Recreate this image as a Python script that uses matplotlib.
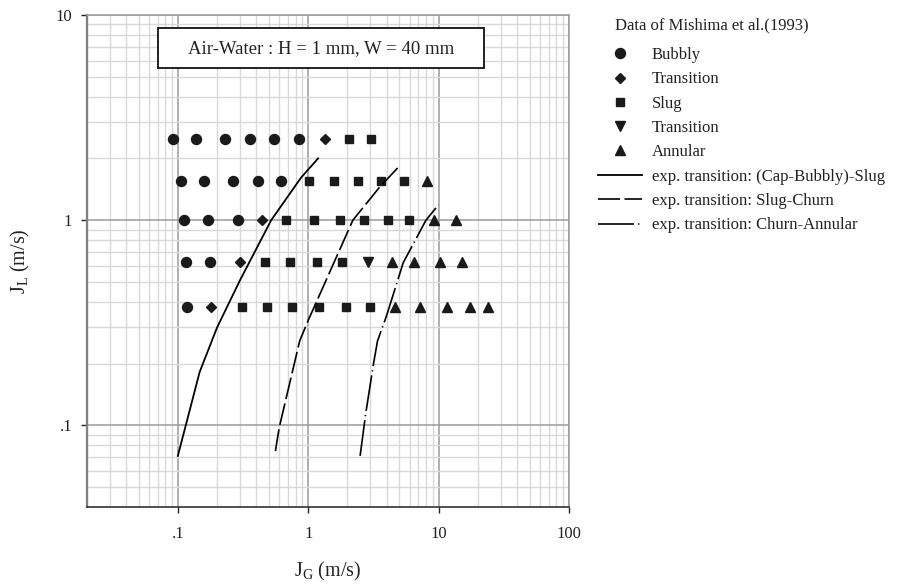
import matplotlib
matplotlib.use("Agg")
import matplotlib.pyplot as plt
from matplotlib.patches import Rectangle
from matplotlib.ticker import FixedLocator, LogLocator, NullFormatter

plt.rcParams['font.family'] = ['Liberation Serif', 'DejaVu Serif']
plt.rcParams['mathtext.fontset'] = 'custom'
plt.rcParams['mathtext.rm'] = 'Liberation Serif'
plt.rcParams['mathtext.it'] = 'Liberation Serif:italic'

# ---- data (J_G, J_L in m/s) ----
bubbly_x = [0.0915, 0.139, 0.231, 0.356, 0.542, 0.848,
            0.105, 0.160, 0.266, 0.411, 0.617,
            0.112, 0.170, 0.290,
            0.115, 0.178,
            0.117]
bubbly_y = [2.5, 2.5, 2.5, 2.5, 2.5, 2.5,
            1.56, 1.56, 1.56, 1.56, 1.56,
            1.0, 1.0, 1.0,
            0.625, 0.625,
            0.378]

trans1_x = [1.34, 0.444, 0.300, 0.181]
trans1_y = [2.5, 1.0, 0.625, 0.378]

slug_x = [2.06, 3.03,
          1.006, 1.57, 2.41, 3.62, 5.38,
          0.676, 1.10, 1.74, 2.67, 4.08, 5.98,
          0.468, 0.723, 1.165, 1.83,
          0.310, 0.482, 0.747, 1.20, 1.95, 3.0]
slug_y = [2.5, 2.5,
          1.56, 1.56, 1.56, 1.56, 1.56,
          1.0, 1.0, 1.0, 1.0, 1.0, 1.0,
          0.625, 0.625, 0.625, 0.625,
          0.378, 0.378, 0.378, 0.378, 0.378, 0.378]

trans2_x = [2.86]
trans2_y = [0.625]

annular_x = [8.08,
             9.2, 13.5,
             4.40, 6.53, 10.2, 15.2,
             4.59, 7.14, 11.5, 17.5, 23.9]
annular_y = [1.56,
             1.0, 1.0,
             0.625, 0.625, 0.625, 0.625,
             0.378, 0.378, 0.378, 0.378, 0.378]

slug_tr_x = [0.1, 0.147, 0.2, 0.3, 0.52, 0.88, 1.19]
slug_tr_y = [0.071, 0.182, 0.30, 0.51, 1.0, 1.61, 2.0]

churn_tr_x = [0.56, 0.60, 0.86, 1.0, 2.2, 3.5, 4.9]
churn_tr_y = [0.075, 0.098, 0.258, 0.325, 1.0, 1.44, 1.81]

annular_tr_x = [2.5, 2.76, 3.16, 3.4, 4.0, 5.35, 8.0, 10.0]
annular_tr_y = [0.071, 0.114, 0.198, 0.258, 0.344, 0.62, 1.0, 1.19]

x_ticks = [0.1, 1, 10, 100]
x_ticklabels = ['.1', '1', '10', '100']
y_ticks = [0.1, 1, 10]
y_ticklabels = ['.1', '1', '10']

labels = ['Bubbly', 'Transition', 'Slug', 'Transition', 'Annular',
          'exp. transition: (Cap-Bubbly)-Slug',
          'exp. transition: Slug-Churn',
          'exp. transition: Churn-Annular']

# ---- figure ----
fig = plt.figure(figsize=(9.12, 5.86), dpi=100)
ax = fig.add_axes([86.7 / 912, 1 - 507 / 586, (569 - 86.7) / 912, (507 - 15) / 586])
ax.set_xscale('log')
ax.set_yscale('log')
ax.set_xlim(0.02, 100)
ax.set_ylim(0.04, 10)

mc = '#1a1a1a'
h1, = ax.plot(bubbly_x, bubbly_y, 'o', ms=7.2, color=mc, ls='none', zorder=4)
h2, = ax.plot(trans1_x, trans1_y, 'D', ms=5.4, color=mc, ls='none', zorder=4)
h3, = ax.plot(slug_x, slug_y, 's', ms=5.8, color=mc, ls='none', zorder=4)
h4, = ax.plot(trans2_x, trans2_y, 'v', ms=6.8, color=mc, ls='none', zorder=4)
h5, = ax.plot(annular_x, annular_y, '^', ms=6.8, color=mc, ls='none', zorder=4)
h6, = ax.plot(slug_tr_x, slug_tr_y, '-', color='black', lw=1.3, zorder=5)
h7, = ax.plot(churn_tr_x, churn_tr_y, color='black', lw=1.2, zorder=5,
              dashes=(13.2, 2.7))
h8, = ax.plot(annular_tr_x, annular_tr_y, color='black', lw=1.2, zorder=5,
              dashes=(21.6, 2.4, 0.8, 2.4))

# grid
ax.xaxis.set_minor_locator(LogLocator(base=10, subs=range(2, 10), numticks=20))
ax.yaxis.set_minor_locator(LogLocator(base=10, subs=range(2, 10), numticks=20))
ax.xaxis.set_minor_formatter(NullFormatter())
ax.yaxis.set_minor_formatter(NullFormatter())
ax.grid(True, which='minor', color='#d9d9d9', lw=1.0, zorder=0)
ax.grid(True, which='major', color='#9a9a9a', lw=1.1, zorder=1)
ax.set_axisbelow(True)

ax.xaxis.set_major_locator(FixedLocator(x_ticks))
ax.yaxis.set_major_locator(FixedLocator(y_ticks))
ax.set_xticklabels(x_ticklabels)
ax.set_yticklabels(y_ticklabels)
ax.tick_params(which='major', direction='out', length=4.5, width=1.0,
               color='#222222', labelsize=12, labelcolor='#222222')
ax.tick_params(axis='x', which='major', pad=9)
ax.tick_params(axis='y', which='major', pad=6)
ax.tick_params(which='minor', length=0)

for side in ['top', 'right']:
    ax.spines[side].set_color('#9a9a9a')
    ax.spines[side].set_linewidth(1.1)
ax.spines['left'].set_color('#808080')
ax.spines['left'].set_linewidth(1.6)
ax.spines['bottom'].set_color('#333333')
ax.spines['bottom'].set_linewidth(1.2)

ax.set_xlabel(r'$\mathrm{J_G}$ (m/s)', fontsize=14.5, color='#222222', labelpad=13)
ax.set_ylabel(r'$\mathrm{J_L}$ (m/s)', fontsize=14.5, color='#222222', labelpad=17)

# annotation box
ax.add_patch(Rectangle((0.148, 0.8917), 0.823 - 0.148, 0.973 - 0.8917,
                       transform=ax.transAxes, facecolor='white',
                       edgecolor='#111111', lw=1.3, zorder=6))
ax.text(0.4855, 0.932, 'Air-Water : H = 1 mm, W = 40 mm', transform=ax.transAxes,
        ha='center', va='center', fontsize=13.5, color='#222222', zorder=7)

# legend
fig.text(615 / 912, 1 - 25 / 586, 'Data of Mishima et al.(1993)', fontsize=12,
         va='center', ha='left', color='#222222')
leg = ax.legend([h1, h2, h3, h4, h5, h6, h7, h8], labels,
                loc='upper left', bbox_to_anchor=(598 / 912, 1 - 47 / 586),
                bbox_transform=fig.transFigure, frameon=False, fontsize=12,
                handlelength=2.64, handletextpad=0.58, labelspacing=0.5,
                borderpad=0, borderaxespad=0, numpoints=1)
for t in leg.get_texts():
    t.set_color('#222222')

fig.savefig('out.png', dpi=100)
